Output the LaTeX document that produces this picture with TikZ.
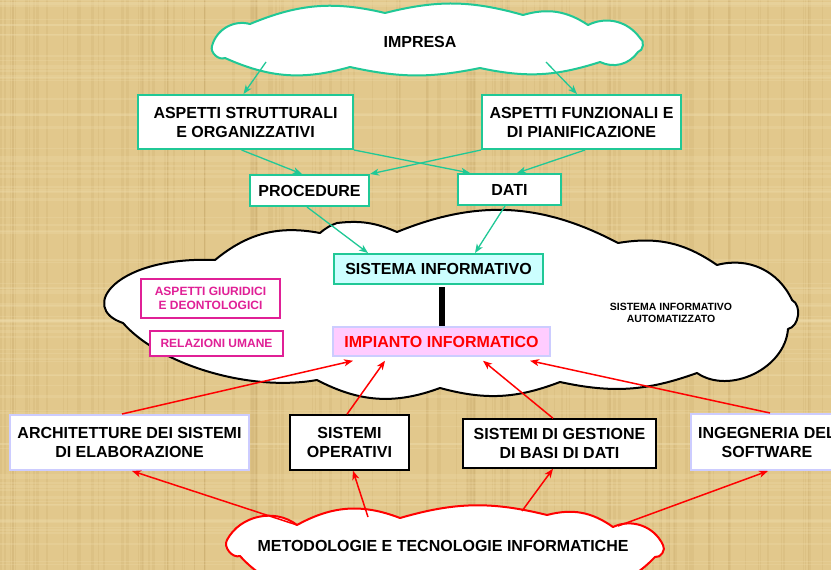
\documentclass[tikz,border=0pt]{standalone}
\usepackage{fontspec}
\setmainfont{Liberation Sans}
\usetikzlibrary{arrows.meta}
\definecolor{bgtan}{RGB}{226,200,140}
\definecolor{bgdark}{RGB}{196,165,100}
\definecolor{bglight}{RGB}{240,222,175}
\definecolor{tealc}{RGB}{32,200,150}
\definecolor{magc}{RGB}{224,32,150}
\definecolor{lavc}{RGB}{204,204,255}
\definecolor{cyanfill}{RGB}{204,255,255}
\definecolor{pinkfill}{RGB}{255,204,255}
\begin{document}
\begin{tikzpicture}[x=1pt,y=-1pt,
  txt/.style={font=\bfseries\fontsize{16}{19}\selectfont, align=center, inner sep=0pt},
  tealbox/.style={txt, draw=tealc, line width=2pt, fill=white},
  blackbox/.style={txt, draw=black, line width=1.5pt, fill=white},
  lavbox/.style={txt, draw=lavc, line width=2pt, fill=white},
  magbox/.style={font=\bfseries\fontsize{12}{14.5}\selectfont, align=center, inner sep=0pt, draw=magc, line width=1.5pt, text=magc, fill=white},
  tealarrow/.style={draw=tealc, line width=1.3pt, -{Stealth[length=9pt,width=7pt,inset=2.5pt]}},
  redarrow/.style={draw=red, line width=1.5pt, -{Stealth[length=9pt,width=7pt,inset=2.5pt]}},
  cloudline/.style={line width=2pt, fill=white, line join=round}
]
\useasboundingbox (0,0) rectangle (831,570);
\clip (0,0) rectangle (831,570);
\fill[bgtan] (0,0) rectangle (831,570);
% papyrus texture
\pgfmathsetseed{11}
\foreach \i in {1,...,140} {
  \pgfmathsetmacro{\xx}{rnd*831}
  \pgfmathsetmacro{\ww}{0.6+rnd*2.5}
  \draw[bgdark, opacity=0.18, line width=\ww pt] (\xx,0) -- (\xx,570);
}
\foreach \i in {1,...,90} {
  \pgfmathsetmacro{\yy}{rnd*570}
  \pgfmathsetmacro{\ww}{0.6+rnd*2.5}
  \draw[bglight, opacity=0.25, line width=\ww pt] (0,\yy) -- (831,\yy);
}

% IMPRESA cloud
\draw[cloudline, draw=tealc] (212,46) to[bend left=45] (250,24) to[bend left=18] (385,13)
  to[bend left=15] (523,15) to[bend left=25] (588,25) to[bend left=40] (640,38)
  to[bend left=70] (638,52) to[bend left=40] (600,62) to[bend left=15] (480,68)
  to[bend left=12] (350,67) to[bend left=20] (225,58) to[bend left=65] (212,46) -- cycle;
\node[txt] (impresa) at (420,42) {IMPRESA};
\coordinate (impL) at (266,62);
\coordinate (impR) at (546,62);

% big cloud
\draw[cloudline, draw=black] (123,323) .. controls (78,308) and (115,256) .. (215,260)
  to[bend left=25] (320,233)
  to[bend left=10] (337,223) to[bend left=15] (397,232) to[bend left=25] (618,243)
  to[bend left=22] (717,265) to[bend left=40] (792,300) to[bend left=70] (788,329)
  to[bend left=60] (697,373) to[bend left=16] (560,382) to[bend left=18] (440,388)
  to[bend left=24] (317,380) .. controls (250,392) and (160,365) .. (123,323) -- cycle;

% METODOLOGIE cloud
\draw[cloudline, draw=red] (227,540) to[bend left=50] (297,525) to[bend left=25] (400,518)
  to[bend left=15] (547,515) to[bend left=25] (613,527) to[bend left=45] (663,545)
  to[bend left=70] (655,557) to[bend left=30] (560,585) to[bend left=15] (330,585)
  to[bend left=30] (240,556) to[bend left=70] (227,540) -- cycle;
\node[txt] (metod) at (443,546) {METODOLOGIE E TECNOLOGIE INFORMATICHE};
\coordinate (metA) at (297,525);
\coordinate (metB) at (368,517);
\coordinate (metC) at (522,511);
\coordinate (metD) at (618,526);

% boxes
\node[tealbox, minimum width=215pt, minimum height=54pt] (strut) at (245.5,122) {ASPETTI STRUTTURALI\\E ORGANIZZATIVI};
\node[tealbox, minimum width=199pt, minimum height=54pt] (funz) at (581.5,122) {ASPETTI FUNZIONALI E\\DI PIANIFICAZIONE};
\node[tealbox, minimum width=119pt, minimum height=31pt] (proc) at (309.5,190.5) {PROCEDURE};
\node[tealbox, minimum width=103pt, minimum height=31pt] (dati) at (509.5,189.5) {DATI};
\node[tealbox, fill=cyanfill, minimum width=209pt, minimum height=30pt] (si) at (438.5,269) {SISTEMA INFORMATIVO};
\node[txt, draw=lavc, line width=1.5pt, fill=pinkfill, text=red, minimum width=217pt, minimum height=29pt] (imp) at (441.5,341.5) {IMPIANTO INFORMATICO};
\node[magbox, minimum width=139pt, minimum height=39pt] (giur) at (210.5,298.5) {ASPETTI GIURIDICI\\E DEONTOLOGICI};
\node[magbox, minimum width=133pt, minimum height=25pt] (rel) at (216.5,343.5) {RELAZIONI UMANE};
\node[font=\bfseries\fontsize{10.5}{12}\selectfont, align=center, inner sep=0pt] (sia) at (671,313) {SISTEMA INFORMATIVO\\AUTOMATIZZATO};

\node[lavbox, minimum width=239pt, minimum height=55pt] (arch) at (129.5,442.5) {ARCHITETTURE DEI SISTEMI\\DI ELABORAZIONE};
\node[blackbox, minimum width=119pt, minimum height=55pt] (so) at (349.5,442.5) {SISTEMI\\OPERATIVI};
\node[blackbox, minimum width=193pt, minimum height=49pt] (sgbd) at (559.5,443.5) {SISTEMI DI GESTIONE\\DI BASI DI DATI};
\node[lavbox, minimum width=152pt, minimum height=56pt] (ing) at (767,442) {INGEGNERIA DEL\\SOFTWARE};

% teal arrows
\draw[tealarrow] (impL) -- ([xshift=-2pt]strut.north);
\draw[tealarrow] (impR) -- ([xshift=-4.5pt]funz.north);
\draw[tealarrow] ([xshift=-4pt]strut.south) -- ([xshift=-7.5pt]proc.north);
\draw[tealarrow] (strut.south east) -- ([xshift=-39.5pt]dati.north);
\draw[tealarrow] (funz.south west) -- (proc.north east);
\draw[tealarrow] ([xshift=3.5pt]funz.south) -- ([xshift=7.5pt]dati.north);
\draw[tealarrow] ([xshift=-2.5pt]proc.south) -- ([xshift=-70.5pt]si.north);
\draw[tealarrow] ([xshift=-4.5pt]dati.south) -- ([xshift=36.5pt]si.north);

% black link
\draw[line width=6pt] ([yshift=-2pt]si.south -| imp.north) -- (imp.north);

% red arrows
\draw[redarrow] ([xshift=-7.5pt]arch.north) -- ([xshift=-88.5pt,yshift=-4pt]imp.south);
\draw[redarrow] ([xshift=-2.5pt]so.north) -- ([xshift=-56.5pt,yshift=-4pt]imp.south);
\draw[redarrow] ([xshift=-6.5pt]sgbd.north) -- ([xshift=41.5pt,yshift=-4pt]imp.south);
\draw[redarrow] ([xshift=3pt]ing.north) -- ([xshift=88.5pt,yshift=-4pt]imp.south);
\draw[redarrow] (metA) -- ([xshift=2.5pt]arch.south);
\draw[redarrow] (metB) -- ([xshift=3.5pt]so.south);
\draw[redarrow] (metC) -- ([xshift=-6.5pt]sgbd.south);
\draw[redarrow] (metD) -- ([xshift=1pt]ing.south);
\end{tikzpicture}
\end{document}
